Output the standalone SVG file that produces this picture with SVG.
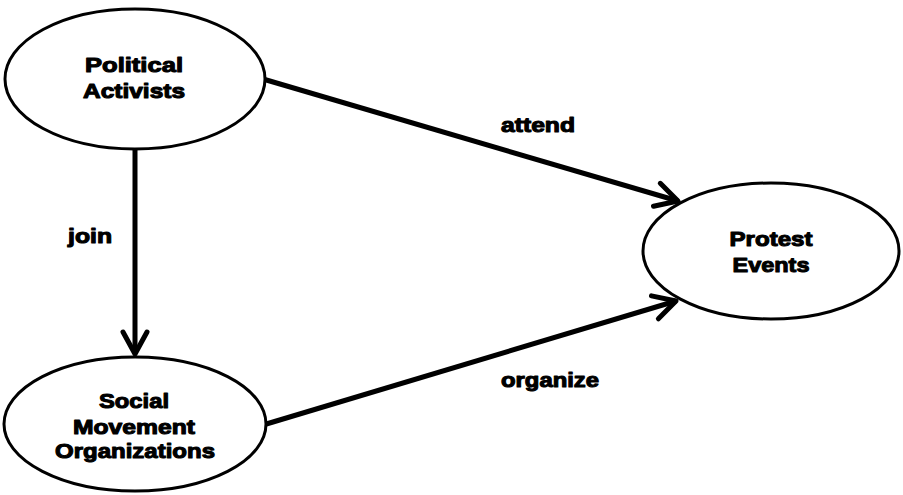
<svg xmlns="http://www.w3.org/2000/svg" width="903" height="495" viewBox="0 0 903 495">
<style>
.node{fill:#fff;stroke:#000;stroke-width:3}
.t{font-family:"Liberation Sans",Arial,sans-serif;font-weight:bold;font-size:21px;fill:#000;stroke:#000;stroke-width:1.1;stroke-linejoin:round;text-anchor:middle}
.e{fill:none;stroke:#000;stroke-width:5}
</style>
<defs>
<marker id="arr" markerUnits="userSpaceOnUse" markerWidth="40" markerHeight="40" viewBox="-30 -20 40 40" refX="0" refY="0" orient="auto" overflow="visible">
<path d="M-22,-12 L0,0 L-22,12" fill="none" stroke="#000" stroke-width="5" stroke-linecap="round" stroke-linejoin="round"/>
</marker>
</defs>
<rect width="903" height="495" fill="#fff"/>
<g id="edges">
<line class="e" x1="263" y1="79" x2="678" y2="201" marker-end="url(#arr)"/>
<line class="e" x1="263" y1="425" x2="676" y2="301" marker-end="url(#arr)"/>
<line class="e" x1="135" y1="149" x2="135" y2="354" marker-end="url(#arr)"/>
<text class="t" x="538" y="132" textLength="74" lengthAdjust="spacingAndGlyphs">attend</text>
<text class="t" x="550" y="387" textLength="98" lengthAdjust="spacingAndGlyphs">organize</text>
<text class="t" x="90" y="243" textLength="44" lengthAdjust="spacingAndGlyphs">join</text>
</g>
<g id="political-activists">
<ellipse class="node" cx="135" cy="79" rx="130" ry="70"/>
<text class="t" x="134" y="72" textLength="98" lengthAdjust="spacingAndGlyphs">Political</text>
<text class="t" x="134" y="98" textLength="102" lengthAdjust="spacingAndGlyphs">Activists</text>
</g>
<g id="protest-events">
<ellipse class="node" cx="771" cy="251" rx="128" ry="68"/>
<text class="t" x="771" y="246" textLength="83" lengthAdjust="spacingAndGlyphs">Protest</text>
<text class="t" x="771" y="272" textLength="77" lengthAdjust="spacingAndGlyphs">Events</text>
</g>
<g id="social-movement-organizations">
<ellipse class="node" cx="135" cy="424" rx="131" ry="67"/>
<text class="t" x="134" y="408" textLength="70" lengthAdjust="spacingAndGlyphs">Social</text>
<text class="t" x="134" y="434" textLength="122" lengthAdjust="spacingAndGlyphs">Movement</text>
<text class="t" x="135" y="458" textLength="160" lengthAdjust="spacingAndGlyphs">Organizations</text>
</g>
</svg>
